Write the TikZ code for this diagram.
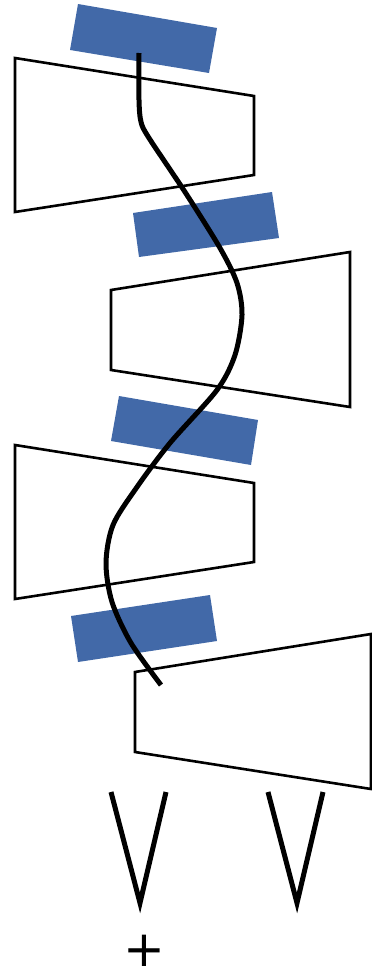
\documentclass[tikz,border=0pt]{standalone}
\usepackage{fontspec}
\newfontfamily\plusfont{DejaVu Sans}
\definecolor{domblue}{RGB}{66,105,168}
\tikzset{
  blueblock/.style={fill=domblue, draw=none},
  trap/.style={draw=black, line width=2.6pt, line join=miter, fill=none},
  chain/.style={draw=black, line width=5pt, line cap=butt},
  vee/.style={draw=black, line width=5pt, line join=miter, miter limit=10},
}
\begin{document}
\begin{tikzpicture}[x=1pt,y=-1pt]
\useasboundingbox (0,0) rectangle (372,969);
% blue blocks
\fill[blueblock] (78,4) -- (217,28) -- (209,73) -- (70,50) -- cycle;
\fill[blueblock] (133,213) -- (272,192) -- (279,238) -- (139,257) -- cycle;
\fill[blueblock] (119,396) -- (258,420) -- (251,465) -- (111,441) -- cycle;
\fill[blueblock] (71,616) -- (210,595) -- (217,641) -- (78,662) -- cycle;
% trapezoids
\draw[trap] (15,58) -- (254,96) -- (254,175) -- (15,212) -- cycle;
\draw[trap] (111,290) -- (350,252) -- (350,407) -- (111,370) -- cycle;
\draw[trap] (15,445) -- (254,483) -- (254,562) -- (15,599) -- cycle;
\draw[trap] (135,672) -- (371,634) -- (371,789) -- (135,752) -- cycle;
% chain
\draw[chain] plot[smooth, tension=0.5] coordinates {(139,53) (139,100) (141,122) (149,138) (185,192) (220,248) (237,283) (242,315) (235,355) (217,390) (170,443) (137,487) (113,525) (106,563) (112,602) (131,643) (161,685)};
% V shapes
\draw[vee] (111,792) -- (140,903) -- (166,792);
\draw[vee] (268,792) -- (297,903) -- (323,792);
% plus
\node[inner sep=0pt, anchor=center, font=\plusfont\fontsize{50}{50}\selectfont] (plus) at (144,951) {+};
\end{tikzpicture}
\end{document}
